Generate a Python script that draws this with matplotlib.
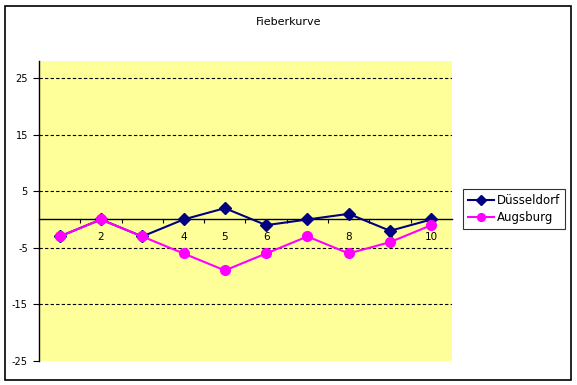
import numpy as np
import matplotlib
matplotlib.use("Agg")
import matplotlib.pyplot as plt
from matplotlib.patches import Rectangle

# data
days = [1, 2, 3, 4, 5, 6, 7, 8, 9, 10]
duesseldorf = [-3, 0, -3, 0, 2, -1, 0, 1, -2, 0]
augsburg = [-3, 0, -3, -6, -9, -6, -3, -6, -4, -1]
y_ticks = [-25, -15, -5, 5, 15, 25]

W, H = 577, 385
fig = plt.figure(figsize=(W / 100, H / 100), dpi=100)
fig.patch.set_facecolor("white")

# outer chart border
fig.patches.append(Rectangle((5 / W, 5 / H), 566 / W, 374 / H, transform=fig.transFigure,
                             fill=False, edgecolor="black", linewidth=1.2))

# plot area in pixel coords
left, right, top, bottom = 39, 452, 61, 361
ax = fig.add_axes([left / W, 1 - bottom / H, (right - left) / W, (bottom - top) / H])
ax.set_facecolor("#ffff99")

ax.plot(days, duesseldorf, color="#000080", marker="D", markersize=6, linewidth=1.5,
        label="Düsseldorf", zorder=3)
ax.plot(days, augsburg, color="#ff00ff", marker="o", markersize=7, linewidth=1.5,
        label="Augsburg", zorder=4)

ax.set_xlim(0.5, 10.5)
ax.set_ylim(-25, 28)

# dashed gridlines
for y in y_ticks[1:]:
    ax.axhline(y, color="black", linestyle=(0, (3, 2)), linewidth=0.8, zorder=1)

for s in ["top", "right"]:
    ax.spines[s].set_visible(False)
ax.spines["bottom"].set_position(("data", 0))
ax.spines["bottom"].set_linewidth(1.0)
ax.spines["left"].set_linewidth(1.0)

ax.set_yticks(y_ticks)
ax.set_yticklabels([str(v) for v in y_ticks], fontsize=7)
ax.tick_params(axis="y", direction="out", length=4, width=0.8, pad=4)

ax.set_xticks(days)
ax.set_xticklabels([str(d) for d in days], fontsize=7.5)
ax.set_xticks([d + 0.5 for d in days[:-1]], minor=True)
ax.tick_params(axis="x", which="major", length=0, pad=9)
ax.tick_params(axis="x", which="minor", direction="out", length=3, width=0.8)

fig.text(0.5, 1 - 22 / H, "Fieberkurve", ha="center", va="center", fontsize=8)

leg = ax.legend(loc="center left", bbox_to_anchor=(463 / W, 1 - 209 / H),
                bbox_transform=fig.transFigure, fontsize=8.5, frameon=True,
                fancybox=False, edgecolor="black", handlelength=2.2, borderpad=0.4,
                labelspacing=0.4, handletextpad=0.3, borderaxespad=0, markerscale=0.8)
leg.get_frame().set_linewidth(0.8)

fig.savefig("out.png", dpi=100)
